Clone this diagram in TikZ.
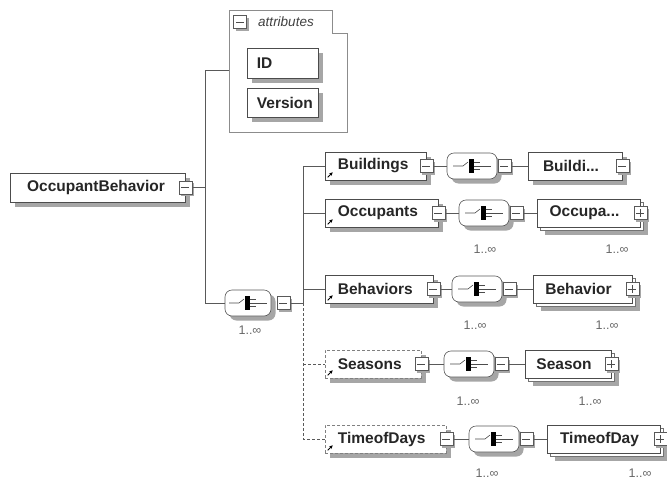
\documentclass[tikz,border=0pt]{standalone}
\usepackage{fontspec}
\setmainfont{Liberation Sans}
\usetikzlibrary{shadows,arrows.meta}
\begin{document}
\begin{tikzpicture}[x=1pt,y=-1pt,
  conn/.style={draw=black!65, line width=0.7pt},
  optconn/.style={conn, dash pattern=on 3pt off 2pt},
  lbl/.style={font=\fontsize{15.5}{18}\selectfont\bfseries, text=black!85, inner sep=0pt},
  mult/.style={font=\fontsize{12.5}{14}\selectfont, text=black!60, inner sep=0pt},
  gshadow/.style={preaction={fill=black!35, draw=none, transform canvas={xshift=#1, yshift=-#1}}},
  elem/.style={draw=black!70, fill=white, line width=0.6pt, minimum height=28pt, inner sep=0pt,
    gshadow=4.5pt},
  optelem/.style={elem, draw=black!50, dash pattern=on 3pt off 2pt},
  multi/.style={draw=black!70, fill=white, line width=0.6pt, minimum height=28pt, inner sep=0pt,
    gshadow=8pt,
    preaction={draw=black!55, fill=white, line width=0.6pt, transform canvas={xshift=3.5pt, yshift=-3.5pt}}},
  btn/.style={draw=black!65, fill=white, line width=0.6pt, minimum size=13pt, inner sep=0pt,
    gshadow=2pt},
  bminus/.style={btn, path picture={\draw[black!70, line width=0.7pt]
     ([xshift=2.5pt]path picture bounding box.west) -- ([xshift=-2.5pt]path picture bounding box.east);}},
  bplus/.style={btn, path picture={\draw[black!70, line width=0.7pt]
     ([xshift=2.5pt]path picture bounding box.west) -- ([xshift=-2.5pt]path picture bounding box.east)
     ([yshift=-2.5pt]path picture bounding box.north) -- ([yshift=2.5pt]path picture bounding box.south);}},
  comp/.style={draw=black!65, fill=white, line width=0.6pt, rounded corners=7pt,
    minimum width=50pt, minimum height=26pt, inner sep=0pt,
    gshadow=4.5pt,
    path picture={
      \draw[sharp corners, black!70, line width=0.6pt] ([xshift=-19pt]path picture bounding box.center)
        -- ([xshift=-9pt]path picture bounding box.center)
        -- ([xshift=-4pt,yshift=4pt]path picture bounding box.center);
      \fill[sharp corners, black] ([xshift=-3pt,yshift=-7pt]path picture bounding box.center)
        rectangle ([xshift=1.5pt,yshift=7pt]path picture bounding box.center);
      \draw[sharp corners, black!70, line width=0.6pt] ([xshift=1.5pt]path picture bounding box.center)
        -- ([xshift=19pt]path picture bounding box.center);
      \draw[sharp corners, black!70, line width=0.5pt] ([xshift=1.5pt,yshift=3.5pt]path picture bounding box.center)
        -- ([xshift=8pt,yshift=3.5pt]path picture bounding box.center);
      \draw[sharp corners, black!70, line width=0.5pt] ([xshift=1.5pt,yshift=-3.5pt]path picture bounding box.center)
        -- ([xshift=8pt,yshift=-3.5pt]path picture bounding box.center);
    }},
  refarrow/.style={draw=black, line width=1pt, -{Stealth[length=3.5pt,width=3.5pt]}}
]
\useasboundingbox (0,0) rectangle (667,482);

% attributes container
\draw[draw=black!45, line width=0.6pt] (229,10) -- (332,10) -- (332,33) -- (347,33) -- (347,132) -- (229,132) -- cycle;
\node[bminus] (attrb) at (240,22) {};
\node[font=\fontsize{13.5}{16}\selectfont\itshape, text=black!75, inner sep=0pt] (attrt) at (286,22) {attributes};
\node[elem, minimum width=71pt, minimum height=30pt] (id) at (282.5,63) {};
\node[lbl, anchor=west] (idt) at ([xshift=10pt]id.west) {ID};
\node[elem, minimum width=71pt, minimum height=29pt] (ver) at (282.5,102.5) {};
\node[lbl, anchor=west] (vert) at ([xshift=10pt]ver.west) {Version};
\coordinate (attrin) at (229,70);

% root
\node[elem, minimum width=175pt, minimum height=29pt] (ob) at (97.5,187.5) {};
\node[lbl] (obt) at (96,187.5) {OccupantBehavior};
\node[bminus] (obb) at (ob.east) {};

% main sequence
\node[comp, minimum width=46pt] (seq) at (248,303) {};
\node[bminus] (seqb) at ([xshift=12pt]seq.east) {};
\node[mult] (seqm) at (250,330) {1..∞};

\coordinate (ja) at (205,70);
\coordinate (jb) at (205,303);
\draw[conn] (obb.east) -- (obb.east -| ja);
\draw[conn] (attrin) -- (ja) -- (jb) -- (seq.west);

% left column elements
\node[elem, minimum width=101pt] (bld) at (375.5,166) {};
\node[lbl, anchor=west] (bldt) at ([xshift=13pt]bld.west) {Buildings};
\node[bminus] (bldb) at (bld.east) {};
\draw[refarrow] ([xshift=3pt,yshift=3pt]bld.south west) -- ++(5pt,5pt);

\node[elem, minimum width=113pt] (occ) at (381.5,213) {};
\node[lbl, anchor=west] (occt) at ([xshift=13pt]occ.west) {Occupants};
\node[bminus] (occb) at (occ.east) {};
\draw[refarrow] ([xshift=3pt,yshift=3pt]occ.south west) -- ++(5pt,5pt);

\node[elem, minimum width=108pt] (beh) at (379,289) {};
\node[lbl, anchor=west] (beht) at ([xshift=13pt]beh.west) {Behaviors};
\node[bminus] (behb) at (beh.east) {};
\draw[refarrow] ([xshift=3pt,yshift=3pt]beh.south west) -- ++(5pt,5pt);

\node[optelem, minimum width=96pt] (sea) at (373,364) {};
\node[lbl, anchor=west] (seat) at ([xshift=13pt]sea.west) {Seasons};
\node[bminus] (seab) at (sea.east) {};
\draw[refarrow] ([xshift=3pt,yshift=3pt]sea.south west) -- ++(5pt,5pt);

\node[optelem, minimum width=121pt] (tod) at (385.5,439) {};
\node[lbl, anchor=west] (todt) at ([xshift=13pt]tod.west) {TimeofDays};
\node[bminus] (todb) at (tod.east) {};
\draw[refarrow] ([xshift=3pt,yshift=3pt]tod.south west) -- ++(5pt,5pt);

% trunk
\coordinate (jt) at (303,166);
\coordinate (jbot) at (303,439);
\draw[conn] (seqb.east) -- (seqb.east -| jt);
\draw[conn] (jt) -- (jt |- seqb);
\draw[conn] (jt) -- (bld.west);
\draw[conn] (jt |- occ) -- (occ.west);
\draw[conn] (jt |- beh) -- (beh.west);
\draw[optconn] (jt |- seqb) -- (jbot) -- (tod.west);
\draw[optconn] (jt |- sea) -- (sea.west);

% compositors
\node[comp] (c1) at (472,166) {};
\node[bminus] (c1b) at ([xshift=7pt]c1.east) {};
\node[comp] (c2) at (484,213) {};
\node[bminus] (c2b) at ([xshift=7pt]c2.east) {};
\node[comp] (c3) at (477,289) {};
\node[bminus] (c3b) at ([xshift=7pt]c3.east) {};
\node[comp] (c4) at (469,364) {};
\node[bminus] (c4b) at ([xshift=7pt]c4.east) {};
\node[comp] (c5) at (494,439) {};
\node[bminus] (c5b) at ([xshift=7pt]c5.east) {};

\draw[conn] (bldb.east) -- (c1.west);
\draw[conn] (occb.east) -- (c2.west);
\draw[conn] (behb.east) -- (c3.west);
\draw[conn] (seab.east) -- (c4.west);
\draw[conn] (todb.east) -- (c5.west);

\node[mult] (c2m) at (485,249) {1..∞};
\node[mult] (c3m) at (475,325) {1..∞};
\node[mult] (c4m) at (468,401) {1..∞};
\node[mult] (c5m) at (487,473) {1..∞};

% right elements
\node[elem, minimum width=94pt] (r1) at (575,166) {};
\node[lbl] (r1t) at ([xshift=-4pt]r1.center) {Buildi...};
\node[bminus] (r1b) at (r1.east) {};

\node[multi, minimum width=103pt] (r2) at (588.5,213) {};
\node[lbl] (r2t) at ([xshift=-4pt]r2.center) {Occupa...};
\node[bplus] (r2b) at (r2.east) {};

\node[multi, minimum width=99pt] (r3) at (582.5,289) {};
\node[lbl] (r3t) at ([xshift=-4pt]r3.center) {Behavior};
\node[bplus] (r3b) at (r3.east) {};

\node[multi, minimum width=86pt] (r4) at (568,364) {};
\node[lbl] (r4t) at ([xshift=-4pt]r4.center) {Season};
\node[bplus] (r4b) at (r4.east) {};

\node[multi, minimum width=113pt] (r5) at (603.5,439) {};
\node[lbl] (r5t) at ([xshift=-4pt]r5.center) {TimeofDay};
\node[bplus] (r5b) at (r5.east) {};

\draw[conn] (c1b.east) -- (r1.west);
\draw[conn] (c2b.east) -- (r2.west);
\draw[conn] (c3b.east) -- (r3.west);
\draw[conn] (c4b.east) -- (r4.west);
\draw[conn] (c5b.east) -- (r5.west);

\node[mult] (r2m) at (617,249) {1..∞};
\node[mult] (r3m) at (607,325) {1..∞};
\node[mult] (r4m) at (590,401) {1..∞};
\node[mult] (r5m) at (640,473) {1..∞};
\end{tikzpicture}
\end{document}
